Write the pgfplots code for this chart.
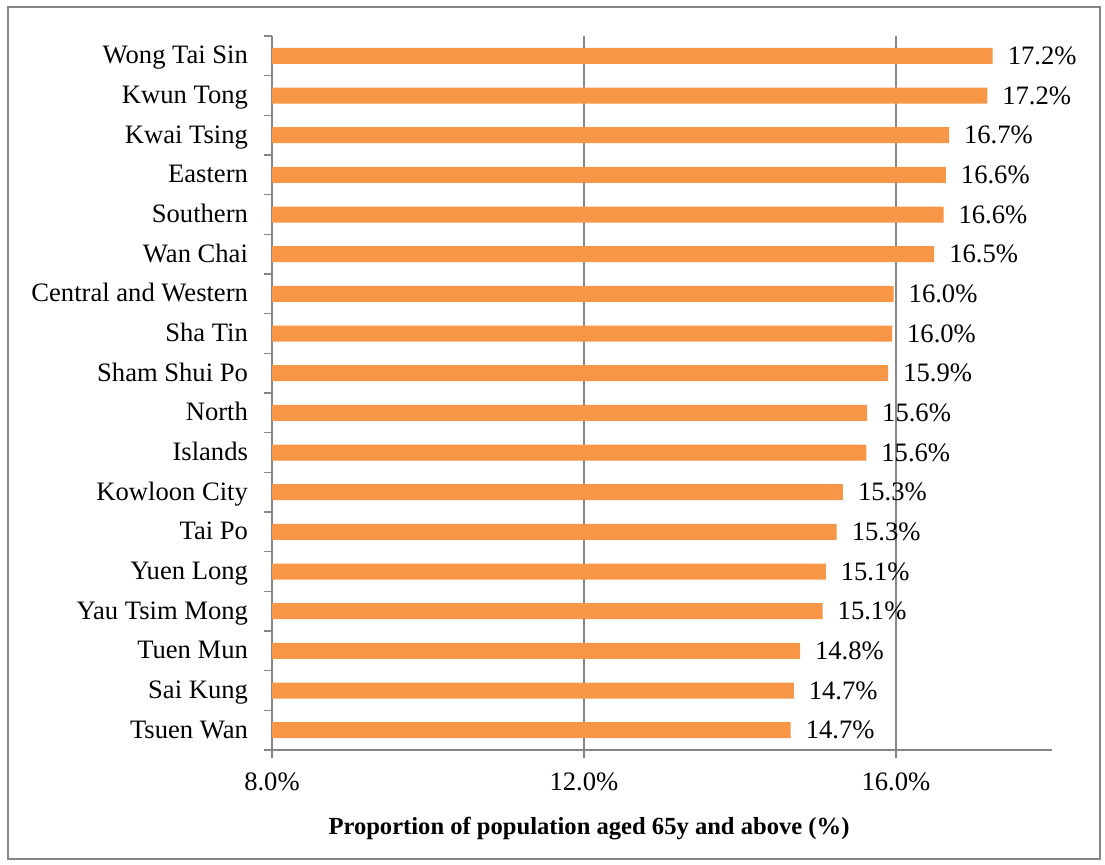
\documentclass[border=0pt]{standalone}
\usepackage{pgfplots}
\pgfplotsset{compat=1.18}
\usepackage{pgfplotstable}
\usepackage{fontspec}
\setmainfont{Liberation Serif}
\definecolor{barorange}{HTML}{F79646}
\definecolor{axgray}{HTML}{868686}
\pgfplotstableread[col sep=comma]{
pos,val,lab
0,14.65,14.7\%
1,14.69,14.7\%
2,14.77,14.8\%
3,15.06,15.1\%
4,15.10,15.1\%
5,15.24,15.3\%
6,15.32,15.3\%
7,15.62,15.6\%
8,15.63,15.6\%
9,15.90,15.9\%
10,15.95,16.0\%
11,15.97,16.0\%
12,16.49,16.5\%
13,16.61,16.6\%
14,16.64,16.6\%
15,16.68,16.7\%
16,17.17,17.2\%
17,17.24,17.2\%
}\datatable
\begin{document}
\begin{tikzpicture}
\useasboundingbox (0,0) rectangle (552.5pt,-432pt);
\draw[axgray, line width=0.6pt] (4pt,-3.5pt) rectangle (550pt,-429.5pt);
\begin{axis}[
  at={(136pt,-375pt)}, anchor=south west,
  scale only axis, width=390pt, height=357pt,
  xbar, bar width=8pt,
  xmin=8, xmax=18, ymin=-0.5, ymax=17.5,
  axis x line*=bottom, axis y line*=left,
  axis line style={axgray, line width=0.8pt, -},
  xtick={8,12,16}, xticklabels={8.0\%,12.0\%,16.0\%},
  xmajorgrids, major grid style={axgray, line width=0.8pt},
  ytick={0,...,17},
  yticklabels={Tsuen Wan,Sai Kung,Tuen Mun,Yau Tsim Mong,Yuen Long,Tai Po,Kowloon City,Islands,North,Sham Shui Po,Sha Tin,Central and Western,Wan Chai,Southern,Eastern,Kwai Tsing,Kwun Tong,Wong Tai Sin},
  minor ytick={-0.5,0.5,...,17.5},
  tick align=outside,
  xtick style={axgray, line width=0.8pt},
  major tick length=4pt,
  y tick style={draw=none},
  minor tick length=4pt,
  minor y tick style={draw=axgray, line width=0.8pt},
  ticklabel style={font=\fontsize{13.3}{16}\selectfont, text=black},
  yticklabel style={xshift=-4.5pt, text height=10pt, text depth=2pt},
  xticklabel style={yshift=-4pt},
  xlabel={\textbf{Proportion of population aged 65y and above (\%)}},
  xlabel style={font=\fontsize{12.3}{15}\selectfont, yshift=-6pt, xshift=-36.5pt},
  point meta=explicit symbolic,
  nodes near coords,
  every node near coord/.append style={anchor=west, xshift=4pt, font=\fontsize{13.3}{16}\selectfont, text=black},
  clip=false,
]
\addplot[fill=barorange, draw=none] table[x=val, y=pos, meta=lab] {\datatable};
\end{axis}
\end{tikzpicture}
\end{document}
